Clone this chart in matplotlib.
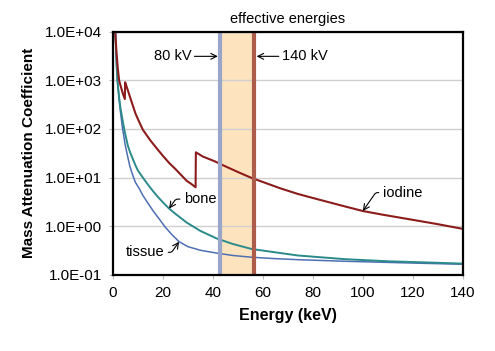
"""Mass attenuation coefficient vs. energy for iodine, bone and soft tissue."""

import matplotlib

matplotlib.use("Agg")
import matplotlib.pyplot as plt
from matplotlib.ticker import FixedLocator, FuncFormatter, NullLocator

plt.rcParams["font.family"] = ["Liberation Sans", "DejaVu Sans"]

# ---------------------------------------------------------------------------
# Data (cm^2/g)
# ---------------------------------------------------------------------------
iodine_energy = [1.0, 1.5, 2.0, 2.5, 3.0, 4.0, 4.8, 4.9, 5.5, 6.0, 7.0, 8.0, 9.0,
                 10.0, 12.0, 15.0, 17.5, 20.0, 22.5, 25.0, 27.5, 29.5, 31.5, 33.1,
                 33.2, 36.0, 40.8, 45.0, 50.0, 55.5, 60.0, 67.0, 74.0, 80.0, 86.0,
                 92.8, 100.0, 108.0, 117.5, 130.0, 140.0]
iodine_mu = [9000, 3500, 1700, 1000, 800, 530, 410, 910, 740, 620, 430, 300, 210,
             160, 96, 58, 40, 28, 20, 15, 11, 8.6, 7.3, 6.3,
             33, 27, 21.5, 17, 13, 9.8, 8.1, 6.0, 4.6, 3.8, 3.15,
             2.55, 2.05, 1.72, 1.42, 1.1, 0.88]

bone_energy = [1.0, 1.5, 1.8, 2.5, 3.0, 4.0, 4.8, 6.0, 7.0, 8.0, 9.0, 10.0, 12.1,
               14.0, 16.0, 18.0, 20.0, 22.5, 25.0, 29.5, 35.0, 41.5, 48.0, 55.5,
               65.0, 74.0, 92.8, 110.0, 125.0, 140.0]
bone_mu = [9000, 2000, 1000, 450, 280, 140, 85, 45, 32, 24, 18, 14, 9.8,
           7.2, 5.3, 4.0, 3.1, 2.3, 1.8, 1.19, 0.8, 0.56, 0.43, 0.34,
           0.29, 0.25, 0.21, 0.19, 0.18, 0.17]

tissue_energy = [1.0, 1.5, 1.8, 2.5, 3.0, 3.9, 5.0, 6.0, 6.8, 8.0, 9.0, 10.5, 12.1,
                 14.0, 16.0, 18.8, 21.0, 23.5, 26.5, 30.0, 35.0, 41.5, 48.0, 55.5,
                 65.0, 74.0, 92.8, 110.0, 125.0, 140.0]
tissue_mu = [9000, 2000, 1000, 400, 230, 100, 45, 26, 17, 11, 8.0, 6.0, 4.2,
             3.0, 2.1, 1.35, 0.95, 0.68, 0.48, 0.38, 0.32, 0.28, 0.25, 0.23,
             0.215, 0.205, 0.19, 0.18, 0.172, 0.165]

# Effective energies of the 80 kV and 140 kV spectra (keV)
eff_80kv = 43.0
eff_140kv = 56.5

x_ticks = [0, 20, 40, 60, 80, 100, 120, 140]
y_ticks = [1e-1, 1e0, 1e1, 1e2, 1e3, 1e4]

# ---------------------------------------------------------------------------
# Figure
# ---------------------------------------------------------------------------
fig = plt.figure(figsize=(4.95, 3.51), dpi=100)
ax = fig.add_axes([0.228, 0.217, 0.707, 0.693])

ax.set_yscale("log")
ax.set_xlim(0, 140)
ax.set_ylim(1e-1, 1e4)

# shaded band between the effective energies
ax.axvspan(eff_80kv, eff_140kv, color="#fde4bf", zorder=1, lw=0)
ax.axvline(eff_80kv, color="#9aa6c9", lw=3, zorder=4)
ax.axvline(eff_140kv, color="#ad5c4c", lw=3, zorder=4)

ax.plot(tissue_energy, tissue_mu, color="#4f6fb3", lw=1.1, zorder=3)
ax.plot(bone_energy, bone_mu, color="#2b8a8a", lw=1.4, zorder=3)
ax.plot(iodine_energy, iodine_mu, color="#8c1c1c", lw=1.5, zorder=3)

# grid + frame
ax.yaxis.set_major_locator(FixedLocator(y_ticks))
ax.yaxis.set_minor_locator(NullLocator())
ax.yaxis.set_major_formatter(FuncFormatter(lambda v, _: f"{v:.1E}"))
ax.xaxis.set_major_locator(FixedLocator(x_ticks))
ax.grid(axis="y", color="#cfcfcf", lw=1.0, zorder=0)
for side in ("left", "right", "top", "bottom"):
    ax.spines[side].set_color("black")
    ax.spines[side].set_linewidth(1.6)
    ax.spines[side].set_zorder(5)
ax.tick_params(axis="both", length=3, color="#bbbbbb", labelsize=11, pad=5)

ax.set_xlabel("Energy (keV)", fontsize=11.5, fontweight="bold", labelpad=6)
ax.set_ylabel("Mass Attenuation Coefficient", fontsize=11, fontweight="bold", labelpad=6)

# annotations
ax.text(70, 1.025, "effective energies", fontsize=10.5, ha="center", va="bottom",
        transform=ax.get_xaxis_transform())
arrow = dict(arrowstyle="->", color="black", lw=0.8, shrinkA=0, shrinkB=0)
ax.annotate("80 kV", xy=(42.0, 3100), xytext=(31.5, 3100), fontsize=10.5,
            ha="right", va="center", arrowprops=arrow)
ax.annotate("140 kV", xy=(57.5, 3100), xytext=(67.5, 3100), fontsize=10.5,
            ha="left", va="center", arrowprops=arrow)

callout = dict(arrowstyle="->", color="black", lw=0.8, shrinkA=1, shrinkB=0,
               connectionstyle="angle,angleA=0,angleB=55,rad=2")
ax.annotate("iodine", xy=(100, 2.05), xytext=(108, 4.9), fontsize=10.5,
            ha="left", va="center", arrowprops=callout)
ax.annotate("bone", xy=(22.5, 2.3), xytext=(28.5, 3.6), fontsize=10.5,
            ha="left", va="center", arrowprops=callout)
ax.annotate("tissue", xy=(26.5, 0.48), xytext=(20.5, 0.29), fontsize=10.5,
            ha="right", va="center", arrowprops=callout)

fig.savefig("out.png", dpi=100)
